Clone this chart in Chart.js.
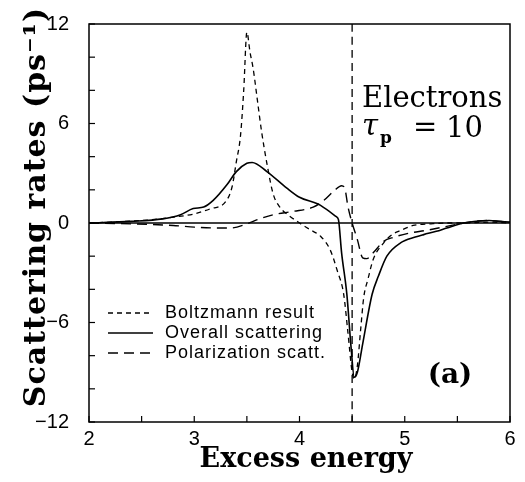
<!DOCTYPE html>
<html>
<head>
<meta charset="utf-8">
<script src="https://cdn.jsdelivr.net/npm/chart.js@4/dist/chart.umd.min.js"></script>
<style>
  html, body { margin: 0; padding: 0; background: #fff; }
  canvas { display: block; }
</style>
</head>
<body>
<canvas id="rates" width="525" height="482"></canvas>
<script>
// data (excess energy vs scattering rate, ps^-1)
const boltzX = [2.0, 2.3, 2.6, 2.8, 3.0, 3.15, 3.3, 3.36, 3.4, 3.44, 3.47, 3.5, 3.53, 3.56, 3.6, 3.64, 3.69, 3.75, 3.82, 3.9, 4.0, 4.1, 4.2, 4.29, 4.36, 4.42, 4.46, 4.5, 4.52, 4.55, 4.58, 4.61, 4.65, 4.7, 4.8, 4.88, 4.96, 5.08, 5.25, 5.4, 5.56, 5.8, 6.0];
const boltzY = [0.0, 0.08, 0.2, 0.35, 0.55, 0.85, 1.3, 2.2, 3.7, 5.3, 8.0, 11.5, 10.3, 9.3, 7.4, 5.5, 3.6, 1.75, 0.9, 0.45, 0.0, -0.4, -0.8, -1.6, -2.9, -4.3, -6.6, -9.0, -9.4, -8.6, -6.5, -4.5, -3.4, -2.2, -1.2, -0.7, -0.45, -0.15, -0.05, 0.0, 0.0, 0.05, 0.0];

const overallX = [2.0, 2.4, 2.7, 2.87, 2.99, 3.09, 3.18, 3.31, 3.4, 3.5, 3.55, 3.69, 3.88, 4.0, 4.17, 4.2, 4.35, 4.37, 4.4, 4.45, 4.49, 4.52, 4.55, 4.6, 4.69, 4.75, 4.83, 4.96, 5.1, 5.18, 5.3, 5.4, 5.56, 5.7, 5.8, 5.9, 6.0];
const overallY = [0.0, 0.1, 0.25, 0.5, 0.87, 0.96, 1.36, 2.3, 3.1, 3.6, 3.65, 3.1, 2.1, 1.55, 1.16, 1.06, 0.38, 0.2, -1.8, -4.3, -7.5, -9.3, -9.0, -7.3, -4.3, -3.2, -2.0, -1.2, -0.85, -0.7, -0.5, -0.3, 0.0, 0.12, 0.15, 0.1, 0.05];

const polarX = [2.0, 2.4, 2.8, 3.0, 3.2, 3.35, 3.5, 3.6, 3.75, 3.94, 4.13, 4.23, 4.33, 4.4, 4.43, 4.46, 4.5, 4.55, 4.6, 4.64, 4.7, 4.8, 4.9, 5.05, 5.2, 5.4, 5.56, 5.7, 5.8, 5.9, 6.0];
const polarY = [0.0, -0.05, -0.15, -0.25, -0.3, -0.3, -0.05, 0.2, 0.5, 0.7, 0.96, 1.36, 1.95, 2.25, 2.1, 1.0, 0.0, -1.0, -2.1, -2.15, -1.8, -1.1, -0.85, -0.6, -0.45, -0.2, 0.0, 0.12, 0.15, 0.1, 0.05];

const zeroX = [2, 6];
const zeroY = [0, 0];
const thresholdX = [4.5, 4.5];
const thresholdY = [-12, 12];

const xTickStep = 0.5;
const yTickStep = 2;
const seriesNames = ['Boltzmann result', 'Overall scattering', 'Polarization scatt.'];

const pts = (xs, ys) => xs.map((x, i) => ({ x: x, y: ys[i] }));

const styles = [
    { dash: [5, 4], width: 1.3 },
    { dash: [], width: 1.6 },
    { dash: [10, 6], width: 1.4 }
];

// inward tick marks, frame, legend and annotation text
const decorations = {
    id: 'decorations',
    afterDraw(chart) {
        const { ctx, chartArea: a, scales } = chart;
        ctx.save();
        ctx.strokeStyle = '#000';
        ctx.lineWidth = 1.5;
        ctx.setLineDash([]);
        ctx.strokeRect(a.left, a.top, a.right - a.left, a.bottom - a.top);

        ctx.lineWidth = 1.2;
        for (let v = 2; v <= 6.001; v += xTickStep) {
            const px = scales.x.getPixelForValue(v);
            ctx.beginPath();
            ctx.moveTo(px, a.bottom);
            ctx.lineTo(px, a.bottom - 6);
            ctx.stroke();
        }
        for (let v = -12; v <= 12.001; v += yTickStep) {
            const py = scales.y.getPixelForValue(v);
            ctx.beginPath();
            ctx.moveTo(a.left, py);
            ctx.lineTo(a.left + 6, py);
            ctx.stroke();
        }

        // legend
        ctx.font = '18px "Liberation Sans", Arial, sans-serif';
        ctx.letterSpacing = '1px';
        ctx.fillStyle = '#000';
        ctx.textBaseline = 'middle';
        ctx.textAlign = 'left';
        seriesNames.forEach((name, i) => {
            const y = 313 + i * 20;
            ctx.lineWidth = styles[i].width;
            ctx.setLineDash(styles[i].dash);
            ctx.beginPath();
            ctx.moveTo(108, y);
            ctx.lineTo(153, y);
            ctx.stroke();
            ctx.fillText(name, 165, y);
        });
        ctx.setLineDash([]);
        ctx.letterSpacing = '0px';

        // annotations
        ctx.textBaseline = 'alphabetic';
        ctx.font = '29px "DejaVu Serif", serif';
        ctx.fillText('Electrons', 362, 107);
        ctx.font = 'italic 29px "DejaVu Serif", serif';
        ctx.fillText('\u03C4', 362, 135);
        ctx.font = 'bold 17px "DejaVu Serif", serif';
        ctx.fillText('p', 380, 143);
        ctx.font = '29px "DejaVu Serif", serif';
        ctx.fillText('=', 413, 136);
        ctx.fillText('10', 446, 137);
        ctx.font = 'bold 28px "DejaVu Serif", serif';
        ctx.textAlign = 'center';
        ctx.fillText('(a)', 450, 383);

        // axis titles
        ctx.font = 'bold 27px "DejaVu Serif", serif';
        ctx.fillText('Excess energy', 306, 467);
        ctx.save();
        ctx.translate(45, 207);
        ctx.rotate(-Math.PI / 2);
        ctx.font = 'bold 30px "DejaVu Serif", serif';
        ctx.letterSpacing = '1px';
        ctx.fillText('Scattering rates (ps\u207B\u00B9)', 0, 0);
        ctx.restore();
        ctx.restore();
    }
};

const mkLine = (label, data, st) => ({
    label: label,
    data: data,
    borderColor: '#000',
    borderWidth: st.width,
    borderDash: st.dash,
    pointRadius: 0,
    fill: false,
    tension: 0,
    cubicInterpolationMode: 'monotone'
});

new Chart(document.getElementById('rates').getContext('2d'), {
    type: 'line',
    data: {
        datasets: [
            mkLine(seriesNames[0], pts(boltzX, boltzY), styles[0]),
            mkLine(seriesNames[1], pts(overallX, overallY), styles[1]),
            mkLine(seriesNames[2], pts(polarX, polarY), styles[2]),
            mkLine('zero', pts(zeroX, zeroY), { dash: [], width: 1.3 }),
            mkLine('threshold', pts(thresholdX, thresholdY), { dash: [8, 5], width: 1.3 })
        ]
    },
    options: {
        responsive: false,
        animation: false,
        layout: { padding: { left: 0, top: 12, right: 15, bottom: 0 } },
        plugins: {
            legend: { display: false },
            tooltip: { enabled: false }
        },
        scales: {
            x: {
                type: 'linear',
                min: 2,
                max: 6,
                afterFit: s => { s.height = 60; },
                grid: { display: false },
                border: { display: false },
                ticks: {
                    stepSize: xTickStep,
                    padding: -3,
                    color: '#000',
                    font: { family: '"Liberation Sans", Arial, sans-serif', size: 20 },
                    maxRotation: 0,
                    autoSkip: false,
                    callback: v => (Number.isInteger(v) ? String(v) : '')
                }
            },
            y: {
                min: -12,
                max: 12,
                afterFit: s => { s.width = 89; },
                grid: { display: false },
                border: { display: false },
                ticks: {
                    stepSize: yTickStep,
                    padding: 12,
                    color: '#000',
                    font: { family: '"Liberation Sans", Arial, sans-serif', size: 20 },
                    autoSkip: false,
                    callback: v => (v % 6 === 0 ? (v < 0 ? '\u2212' + Math.abs(v) : String(v)) : '')
                }
            }
        }
    },
    plugins: [decorations]
});
</script>
</body>
</html>
